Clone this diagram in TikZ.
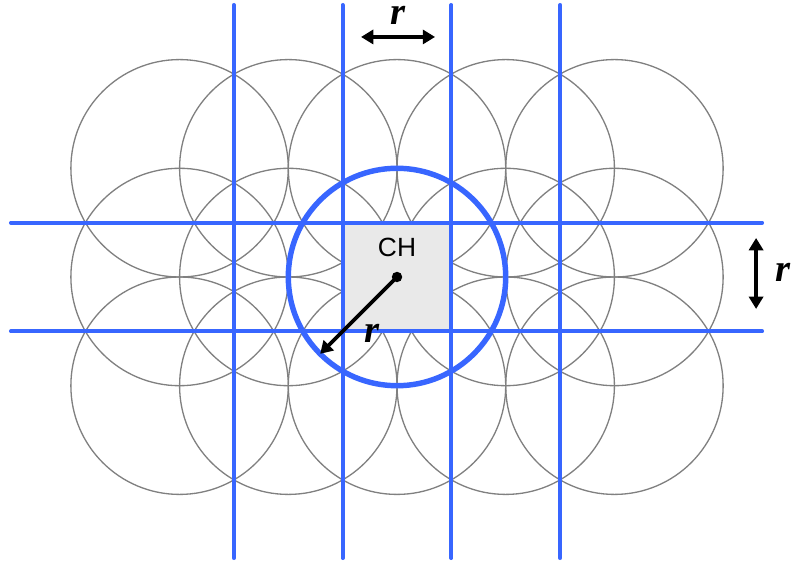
\documentclass[tikz,border=0pt]{standalone}
\usepackage{fontspec}
\setmainfont{Liberation Serif}
\setsansfont{Liberation Sans}
\usetikzlibrary{arrows.meta,positioning}
\definecolor{gridblue}{RGB}{56,102,255}
\definecolor{cellgray}{RGB}{128,128,128}

\begin{document}
\begin{tikzpicture}[x=2.174cm, y=2.174cm,
    cover/.style={draw=cellgray, line width=0.75pt},
    gridline/.style={draw=gridblue, line width=2.3pt, line cap=round},
    dim/.style={line width=2.2pt, {Triangle[length=7pt,width=8pt]}-{Triangle[length=7pt,width=8pt]}},
    rlabel/.style={inner sep=1pt, font=\fontsize{22}{22}\selectfont\bfseries\itshape},
]
\useasboundingbox (-3.652,-2.640) rectangle (3.661,2.548);

% sensor coverage circles
\foreach \i in {-2,...,2}
  \foreach \j in {-1,0,1}
    \draw[cover] (\i,\j) circle (1);

% cluster head cell
\fill[gray!17] (-0.5,-0.5) rectangle (0.5,0.5);

% grid
\foreach \x in {-1.5,-0.5,0.5,1.5}
  \draw[gridline] (\x,2.502) -- (\x,-2.585);
\foreach \y in {-0.5,0.5}
  \draw[gridline] (-3.551,\y) -- (3.358,\y);

% range of the cluster head
\draw[draw=gridblue, line width=3.1pt] (0,0) circle (1);

\coordinate (ch) at (0,0);
\node[font=\sffamily\fontsize{15}{15}\selectfont] (chlabel) at (0,0.276) {CH};
\fill (ch) circle (0.048);
\coordinate (edge) at (225:1);
\draw[line width=2.2pt, -{Triangle[length=7pt,width=8pt]}] (ch) -- (edge);
\node[rlabel] (rdiag) at (-0.23,-0.52) {r};

% dimension arrows
\coordinate (topl) at (-0.331,2.208);
\coordinate (topr) at (0.350,2.208);
\draw[dim] (topl) -- (topr);
\node[rlabel] (rtop) at (0.01,2.41) {r};

\coordinate (sidet) at (3.303,0.359);
\coordinate (sideb) at (3.303,-0.294);
\draw[dim] (sidet) -- (sideb);
\node[rlabel] (rside) at (3.551,0.046) {r};
\end{tikzpicture}
\end{document}
